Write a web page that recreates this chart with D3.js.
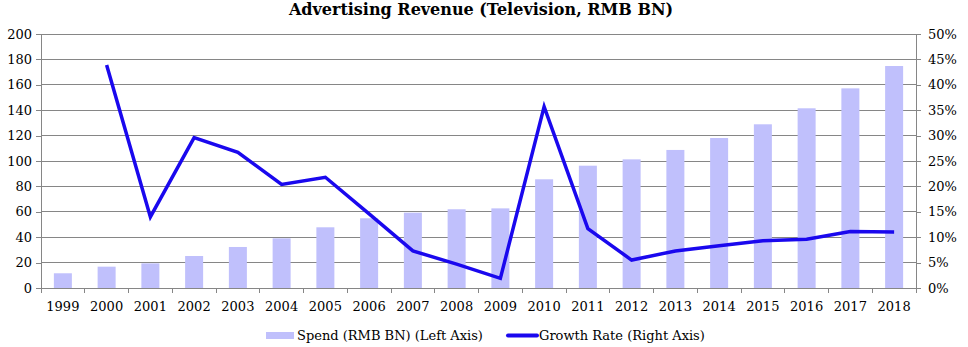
<!DOCTYPE html>
<html>
<head>
<meta charset="utf-8">
<script src="https://cdn.jsdelivr.net/npm/d3@7/dist/d3.min.js"></script>
<style>
  html, body { margin: 0; padding: 0; background: #fff; }
  svg { display: block; }
  text { font-family: "DejaVu Serif", "Liberation Serif", serif; fill: #000; }
</style>
</head>
<body>
<svg id="chart" width="968" height="347"></svg>
<script>
const years = ["1999","2000","2001","2002","2003","2004","2005","2006","2007","2008","2009","2010","2011","2012","2013","2014","2015","2016","2017","2018"];
const spend = [11.6, 16.8, 19.4, 25.2, 32.3, 39.1, 47.8, 54.9, 59.3, 62.0, 62.7, 85.6, 96.3, 101.3, 108.7, 118.1, 128.9, 141.5, 157.2, 174.8];
const growth = [null, 43.9, 14.0, 29.6, 26.7, 20.4, 21.8, 14.6, 7.3, 4.7, 1.9, 35.7, 11.7, 5.5, 7.3, 8.3, 9.3, 9.6, 11.1, 11.0];
const leftTicks = [0, 20, 40, 60, 80, 100, 120, 140, 160, 180, 200];
const rightTicks = [0, 5, 10, 15, 20, 25, 30, 35, 40, 45, 50];
const title = "Advertising Revenue (Television, RMB BN)";
const seriesNames = ["Spend (RMB BN) (Left Axis)", "Growth Rate (Right Axis)"];

const svg = d3.select("#chart");
const m = { left: 41, right: 916, top: 34, bottom: 288 };
const barColor = "#c0c0fc";
const lineColor = "#1a08ee";
const gridColor = "#868686";

const xb = d3.scaleBand().domain(years).range([m.left, m.right]);
const yL = d3.scaleLinear().domain([0, 200]).range([m.bottom, m.top]);
const yR = d3.scaleLinear().domain([0, 50]).range([m.bottom, m.top]);

// title
svg.append("text").attr("x", 481).attr("y", 15).attr("text-anchor", "middle")
  .style("font-weight", "bold").style("font-size", "16px").text(title);

// gridlines
svg.append("g").selectAll("line").data(leftTicks.filter(d => d > 0)).join("line")
  .attr("x1", m.left).attr("x2", m.right)
  .attr("y1", d => yL(d)).attr("y2", d => yL(d))
  .attr("stroke", gridColor).attr("stroke-width", 1).attr("shape-rendering", "crispEdges");

// bars
svg.append("g").selectAll("rect").data(years).join("rect")
  .attr("x", (d) => xb(d) + xb.bandwidth() / 2 - 9)
  .attr("width", 18)
  .attr("y", (d, i) => yL(spend[i]))
  .attr("height", (d, i) => yL(0) - yL(spend[i]))
  .attr("fill", barColor);

// left axis
const gL = svg.append("g").attr("transform", `translate(${m.left},0)`)
  .call(d3.axisLeft(yL).tickValues(leftTicks).tickSize(5).tickPadding(4).tickFormat(d3.format("d")));
gL.selectAll("path, line").attr("stroke", gridColor).attr("shape-rendering", "crispEdges");
gL.selectAll("text").style("font-size", "13px").style("fill", "#000");

// right axis
const gR = svg.append("g").attr("transform", `translate(${m.right},0)`)
  .call(d3.axisRight(yR).tickValues(rightTicks).tickSize(5).tickPadding(7).tickFormat(d => d + "%"));
gR.selectAll("path, line").attr("stroke", gridColor).attr("shape-rendering", "crispEdges");
gR.selectAll("text").style("font-size", "13px").style("fill", "#000");

// bottom axis
const gB = svg.append("g").attr("transform", `translate(0,${m.bottom})`)
  .call(d3.axisBottom(xb).tickSize(0).tickPadding(14));
gB.select("path").attr("stroke", gridColor).attr("shape-rendering", "crispEdges");
gB.selectAll("text").style("font-size", "13px").style("fill", "#000");
// category separator ticks
svg.append("g").selectAll("line").data(years.concat(["end"])).join("line")
  .attr("x1", (d, i) => m.left + i * xb.step()).attr("x2", (d, i) => m.left + i * xb.step())
  .attr("y1", m.bottom).attr("y2", m.bottom + 5)
  .attr("stroke", gridColor).attr("shape-rendering", "crispEdges");

// growth line
const line = d3.line()
  .defined(d => d[1] != null)
  .x(d => xb(d[0]) + xb.bandwidth() / 2)
  .y(d => yR(d[1]));
svg.append("path").datum(years.map((yv, i) => [yv, growth[i]]))
  .attr("d", line).attr("fill", "none").attr("stroke", lineColor)
  .attr("stroke-width", 3.5).attr("stroke-linejoin", "miter");

// legend
const lg = svg.append("g");
lg.append("rect").attr("x", 266).attr("y", 332).attr("width", 28).attr("height", 7).attr("fill", barColor);
lg.append("text").attr("x", 297).attr("y", 340).style("font-size", "13px").text(seriesNames[0]);
lg.append("line").attr("x1", 508).attr("x2", 537).attr("y1", 335.5).attr("y2", 335.5)
  .attr("stroke", lineColor).attr("stroke-width", 4).attr("stroke-linecap", "round");
lg.append("text").attr("x", 539).attr("y", 340).style("font-size", "13px").text(seriesNames[1]);
</script>
</body>
</html>
